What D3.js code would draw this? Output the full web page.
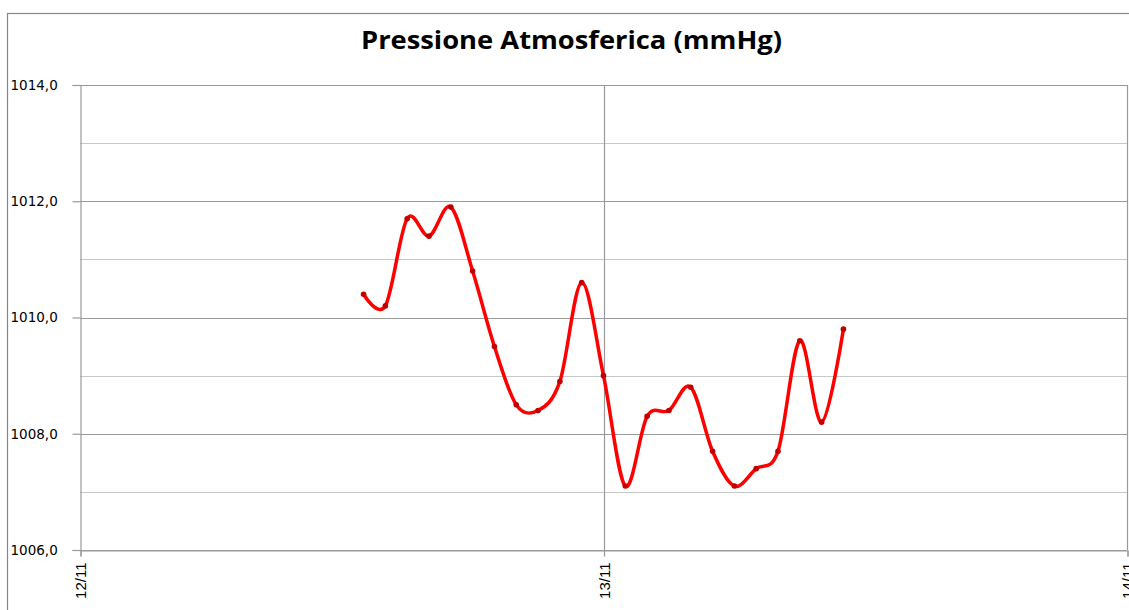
<!DOCTYPE html>
<html><head><meta charset="utf-8">
<script src="https://cdn.jsdelivr.net/npm/d3@7"></script>
<style>body{margin:0;background:#fff}svg{display:block}</style>
</head><body>
<svg id="c" width="1129" height="610"></svg>
<script>
const title = "Pressione Atmosferica (mmHg)";
const startHour = 13; // first reading, 12/11 13:00
const pressure = [1010.4,1010.2,1011.7,1011.4,1011.9,1010.8,1009.5,1008.5,1008.4,1008.9,1010.6,1009.0,
                  1007.1,1008.3,1008.4,1008.8,1007.7,1007.1,1007.4,1007.7,1009.6,1008.2,1009.8];
const yTicks = [1006,1008,1010,1012,1014];
const yMinor = [1007,1009,1011,1013];
const xTickLabels = ["12/11","13/11","14/11"];

const svg = d3.select("#c");
const L=80,R=1127,T=85,B=550;
const d0 = new Date(2012,10,12);
const times = pressure.map((v,i)=>new Date(2012,10,12,startHour+i));
const xTickDates = xTickLabels.map((s,i)=>new Date(2012,10,12+i));
const x = d3.scaleTime().domain([d0,new Date(2012,10,14)]).range([L,R]);
const y = d3.scaleLinear().domain([1006,1014]).range([B,T]);

// outer border
svg.append("rect").attr("x",7.5).attr("y",13.5).attr("width",1130).attr("height",610)
  .attr("fill","#fff").attr("stroke","#888").attr("stroke-width",1.2);

svg.append("text").attr("x",571.5).attr("y",49).attr("text-anchor","middle")
  .attr("font-family","Open Sans").attr("font-weight","bold").attr("font-size",25.5)
  .attr("textLength",421).attr("lengthAdjust","spacingAndGlyphs").text(title);

// minor gridlines
svg.append("g").selectAll("line").data(yMinor).join("line")
  .attr("x1",L).attr("x2",R).attr("y1",d=>Math.round(y(d))+0.5).attr("y2",d=>Math.round(y(d))+0.5)
  .attr("stroke","#c8c8c8").attr("stroke-width",1.2);
// major gridlines
svg.append("g").selectAll("line").data(yTicks).join("line")
  .attr("x1",L).attr("x2",R).attr("y1",d=>Math.round(y(d))+0.5).attr("y2",d=>Math.round(y(d))+0.5)
  .attr("stroke","#9a9a9a").attr("stroke-width",1.2);
// vertical gridlines
svg.append("g").selectAll("line").data(xTickDates.slice(1)).join("line")
  .attr("x1",d=>Math.round(x(d))+0.5).attr("x2",d=>Math.round(x(d))+0.5).attr("y1",T).attr("y2",B)
  .attr("stroke","#9a9a9a").attr("stroke-width",1.2);

// y axis
const ya = d3.axisLeft(y).tickValues(yTicks).tickSize(8).tickPadding(12)
  .tickFormat(d=>d3.format(".1f")(d).replace(".",","));
const gy = svg.append("g").attr("transform",`translate(${L+0.5},0)`).call(ya);
gy.select(".domain").attr("stroke","#9a9a9a").attr("stroke-width",1.2);
gy.selectAll(".tick line").attr("stroke","#9a9a9a").attr("stroke-width",1.2);
gy.selectAll(".tick text").attr("font-family","DejaVu Sans").attr("font-size",13.5).attr("fill","#000")
  .attr("text-anchor","start").attr("x",-70).attr("dy","0.32em");

// x axis
const xa = d3.axisBottom(x).tickValues(xTickDates).tickSize(6).tickFormat((d,i)=>xTickLabels[i]);
const gx = svg.append("g").attr("transform",`translate(0.5,${B+0.5})`).call(xa);
gx.select(".domain").attr("stroke","#9a9a9a").attr("stroke-width",1.2);
gx.selectAll(".tick line").attr("stroke","#9a9a9a").attr("stroke-width",1.2);
gx.selectAll(".tick text").attr("font-family","Liberation Sans Narrow, Liberation Sans").attr("font-size",15).attr("fill","#000")
  .attr("transform","rotate(-90)").attr("text-anchor","end").attr("x",-12).attr("y",0).attr("dy","0.35em");

// line
const line = d3.line().x((d,i)=>x(times[i])).y(d=>y(d)).curve(d3.curveCardinal.tension(0));
svg.append("path").datum(pressure).attr("d",line).attr("fill","none")
  .attr("stroke","#ff0000").attr("stroke-width",3.5).attr("stroke-linejoin","round");
svg.append("g").selectAll("circle").data(pressure).join("circle")
  .attr("cx",(d,i)=>x(times[i])).attr("cy",d=>y(d)).attr("r",2.8).attr("fill","#c00000");
</script>
</body></html>
